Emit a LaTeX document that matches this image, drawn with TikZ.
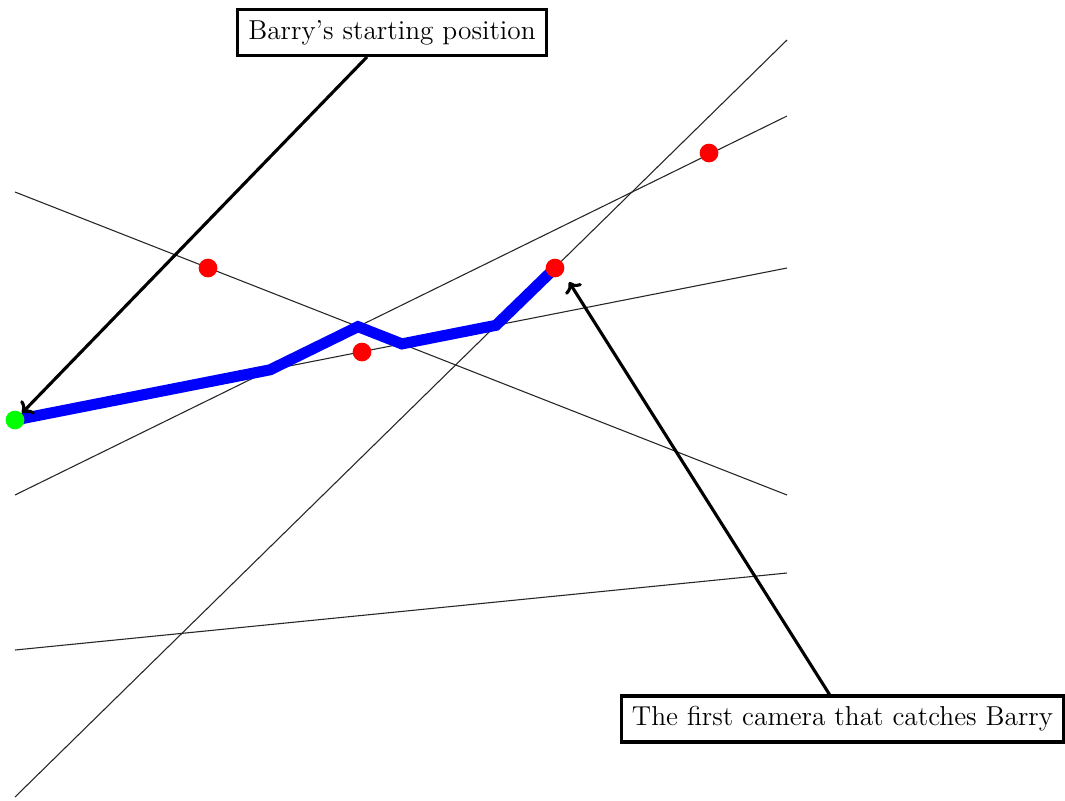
\documentclass[tikz,border=0pt]{standalone}
\usetikzlibrary{arrows.meta}
\begin{document}
\begin{tikzpicture}[x=0.4167pt,y=-0.4167pt,
  thinline/.style={draw=black!85,line width=0.45pt},
  pathline/.style={draw=blue,line width=4.6pt,line join=miter},
  cam/.style={circle,fill=red,inner sep=0pt,minimum size=7.8pt},
  start/.style={circle,fill=green,inner sep=0pt,minimum size=7.8pt},
  label/.style={draw,line width=1.3pt,inner sep=4.4pt,font=\fontsize{11.4}{13}\selectfont},
  callout/.style={draw,line width=1.3pt,-{To[length=4pt,width=8pt]}}]
\useasboundingbox (0,0) rectangle (1065,800);
% line end points
\coordinate (a1) at (15,797); \coordinate (a2) at (787,40);
\coordinate (b1) at (15,495); \coordinate (b2) at (787,116);
\coordinate (c1) at (15,192); \coordinate (c2) at (787,495);
\coordinate (d1) at (15,420); \coordinate (d2) at (787,268);
\coordinate (e1) at (15,650); \coordinate (e2) at (787,573);
\draw[thinline] (a1) -- (a2);
\draw[thinline] (b1) -- (b2);
\draw[thinline] (c1) -- (c2);
\draw[thinline] (d1) -- (d2);
\draw[thinline] (e1) -- (e2);
% path vertices
\coordinate (p1) at (intersection of b1--b2 and d1--d2);
\coordinate (p2) at (intersection of b1--b2 and c1--c2);
\coordinate (p3) at (intersection of c1--c2 and d1--d2);
\coordinate (p4) at (intersection of a1--a2 and d1--d2);
\coordinate (r4c) at (555,268);
\draw[pathline] (d1) -- (p1) -- (p2) -- (p3) -- (p4) -- (r4c);
\node[cam] (r4) at (r4c) {};
\node[cam] (r1) at (208,268) {};
\node[cam] (r2) at (362,352) {};
\node[cam] (r3) at (709,153) {};
\node[start] (g) at (d1) {};
% labels
\node[label] (t1) at (392,32.5) {Barry's starting position};
\node[label] (t2) at (842.5,719) {The first camera that catches Barry};
\draw[callout] (t1.south) ++(-25,0) coordinate (s1) -- (g.north east);
\draw[callout] (t2.north) ++(-13,0) coordinate (s2) -- ([xshift=3pt,yshift=-3pt]r4.south east);
\end{tikzpicture}
\end{document}
